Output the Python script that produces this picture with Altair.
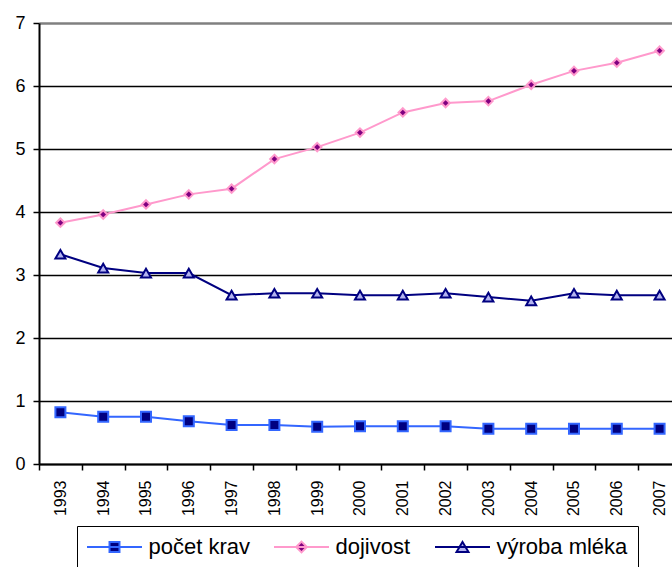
import altair as alt
import pandas as pd

# Roky a hodnoty jednotlivých ukazatelů
roky = [1993, 1994, 1995, 1996, 1997, 1998, 1999, 2000,
        2001, 2002, 2003, 2004, 2005, 2006, 2007]
pocet_krav = [0.82, 0.75, 0.75, 0.68, 0.62, 0.62, 0.59, 0.60,
              0.60, 0.60, 0.56, 0.56, 0.56, 0.56, 0.56]
dojivost = [3.83, 3.96, 4.12, 4.28, 4.37, 4.84, 5.03, 5.26,
            5.58, 5.73, 5.76, 6.02, 6.24, 6.37, 6.56]
vyroba_mleka = [3.33, 3.11, 3.03, 3.03, 2.68, 2.71, 2.71, 2.68,
                2.68, 2.71, 2.65, 2.59, 2.71, 2.68, 2.68]
osa_y = [0, 1, 2, 3, 4, 5, 6, 7]

serie = ["počet krav", "dojivost", "výroba mléka"]
barvy_car = ["#3366FF", "#FF99CC", "#000080"]
barvy_vyplne = ["#000080", "#800080", "#B4B4F0"]
znacky = ["square", "M0,-0.85L0.85,0L0,0.85L-0.85,0Z", "triangle-up"]
# legend symbols: a line segment with the marker in its middle
znacky_legendy = [
    "M-4.58,0H4.58M-0.83,-0.83H0.83V0.83H-0.83Z",
    "M-4.58,0H4.58M0,-0.9L0.9,0L0,0.9L-0.9,0Z",
    "M-4.58,0H4.58M0,-0.85L1,0.85L-1,0.85Z",
]

df = pd.DataFrame({
    "rok": roky * 3,
    "hodnota": pocet_krav + dojivost + vyroba_mleka,
    "serie": [s for s in serie for _ in roky],
})

font = "Liberation Sans"

x = alt.X(
    "rok:Q",
    scale=alt.Scale(domain=[1992.5, 2007.29], nice=False, zero=False),
    axis=alt.Axis(
        values=[r - 0.5 for r in roky],
        labelExpr="toString(datum.value + 0.5)",
        labelOffset=21.4,
        labelAngle=-90,
        labelAlign="right",
        labelBaseline="middle",
        labelFlush=False,
        labelOverlap=False,
        labelPadding=10,
        labelFont=font,
        labelFontSize=16,
        labelColor="black",
        grid=False,
        tickSize=6,
        tickWidth=1.5,
        tickColor="black",
        domainColor="black",
        domainWidth=2,
        title=None,
    ),
)

y = alt.Y(
    "hodnota:Q",
    scale=alt.Scale(domain=[0, 7], nice=False, zero=True),
    axis=alt.Axis(
        values=osa_y,
        grid=True,
        gridColor={"condition": {"test": "datum.value === 7", "value": "#808080"},
                   "value": "#000000"},
        gridWidth={"condition": {"test": "datum.value === 7", "value": 2.5},
                   "value": 1.3},
        labelFont=font,
        labelFontSize=18,
        labelColor="black",
        labelPadding=8,
        tickSize=6,
        tickWidth=1.5,
        tickColor="black",
        domainColor="black",
        domainWidth=2,
        title=None,
    ),
)

legenda = alt.Legend(
    title=None,
    orient="none",
    legendX=38,
    legendY=503,
    direction="horizontal",
    symbolSize=144,
    symbolStrokeWidth=2,
    symbolOffset=16.5,
    labelOffset=23,
    labelFont=font,
    labelFontSize=22,
    labelColor="black",
    labelLimit=400,
    strokeColor="black",
    padding=10,
    columnPadding=20,
)

base = alt.Chart(df)

stroke_scale = alt.Scale(domain=serie, range=barvy_car)
fill_scale = alt.Scale(domain=serie, range=barvy_vyplne)

cary = base.mark_line(strokeWidth=2).encode(
    x=x,
    y=y,
    stroke=alt.Stroke("serie:N", scale=stroke_scale, legend=legenda),
)

# one point layer per series, each with its own marker shape
vrstvy_bodu = [
    base.transform_filter(alt.datum.serie == s)
    .mark_point(filled=True, opacity=1, strokeWidth=2, size=100, shape=tvar)
    .encode(
        x=x,
        y=y,
        fill=alt.Fill("serie:N", scale=fill_scale, legend=legenda),
        stroke=alt.Stroke("serie:N", legend=legenda),
    )
    for s, tvar in zip(serie, znacky)
]

# legend-only layer: no rows drawn, the shape scale carries the explicit domain
legenda_vrstva = base.transform_filter("false").mark_point(
    filled=True, opacity=1, strokeWidth=2
).encode(
    x=x,
    y=y,
    fill=alt.Fill("serie:N", legend=legenda),
    stroke=alt.Stroke("serie:N", legend=legenda),
    shape=alt.Shape("serie:N", scale=alt.Scale(domain=serie, range=znacky_legendy), legend=legenda),
)

chart = (
    alt.layer(cary, *vrstvy_bodu, legenda_vrstva)
    .properties(
        width=633,
        height=441,
        autosize=alt.AutoSizeParams(type="none"),
        padding={"left": 39, "top": 23, "right": 0, "bottom": 103},
        background="white",
    )
    .configure_view(stroke=None)
)

chart.save("out.html", embed_options={"renderer": "svg", "actions": False})
